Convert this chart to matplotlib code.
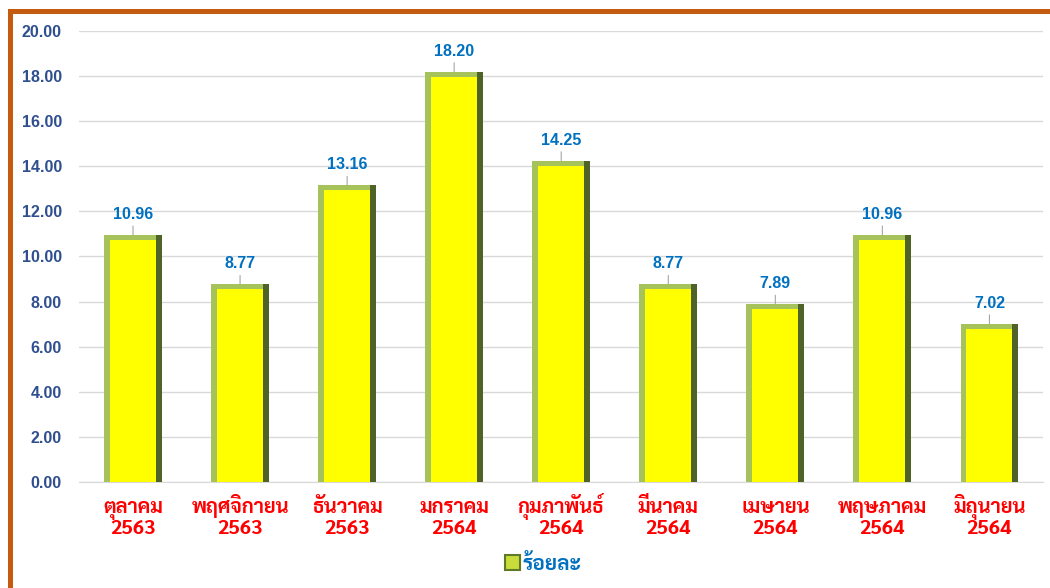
import matplotlib
matplotlib.use('Agg')
import matplotlib.pyplot as plt
import matplotlib.patches as mpatches
import matplotlib.font_manager as fm
import matplotlib.transforms as mtransforms
import matplotlib.patheffects as pe
import numpy as np

# data
months = ['ตุลาคม', 'พฤศจิกายน', 'ธันวาคม', 'มกราคม', 'กุมภาพันธ์',
          'มีนาคม', 'เมษายน', 'พฤษภาคม', 'มิถุนายน']
years = ['2563', '2563', '2563', '2564', '2564', '2564', '2564', '2564', '2564']
percent = [10.96, 8.77, 13.16, 18.20, 14.25, 8.77, 7.89, 10.96, 7.02]
yticks = np.arange(0, 20.01, 2)


def weight_num(w):
    if isinstance(w, str):
        return fm.weight_dict.get(w, 400)
    return w


# pick a Thai family that actually has a bold face installed
thai_font = None
for name in ['Sarabun', 'Noto Sans Thai Looped', 'Noto Sans Thai', 'Niramit', 'Krub']:
    if any(f.name == name and weight_num(f.weight) >= 600 for f in fm.fontManager.ttflist):
        thai_font = name
        break
THAI = [thai_font or 'Noto Sans Thai', 'DejaVu Sans']
NUM = ['Liberation Sans', 'DejaVu Sans']
fake_bold = [] if thai_font else [pe.withStroke(linewidth=0.8, foreground='#FF0000')]

fig = plt.figure(figsize=(10.5, 5.88), dpi=100)
ax = fig.add_axes([0.0757, 0.1803, 0.9176, 0.767])

x = np.arange(len(percent))
w = 0.54
side = 0.055  # bevel width (data units in x)
top = 0.22    # bevel height (data units in y)
vals = np.array(percent)

# bevelled bars: dark right edge, light left/top edge, yellow face
ax.bar(x, vals, width=w, color='#4F6228', zorder=3)
ax.bar(x - side / 2, vals, width=w - side, color='#A6C25A', zorder=3)
ax.bar(x, vals - top, width=w - 2 * side, color='#FFFF00', zorder=3)

for xi, v in zip(x, percent):
    ax.annotate(f'{v:.2f}', xy=(xi, v), xytext=(0, 13), textcoords='offset pixels',
                ha='center', va='bottom', color='#0070C0', fontsize=11.5,
                fontweight='bold', family=NUM,
                arrowprops=dict(arrowstyle='-', color='#A6A6A6', lw=0.8,
                                shrinkA=1, shrinkB=0))

ax.set_xlim(-0.5, len(percent) - 0.5)
ax.set_ylim(0, 20)
ax.set_yticks(yticks)
ax.set_yticklabels([f'{t:.2f}' for t in yticks], color='#2F4F8F',
                   fontsize=11.5, fontweight='bold', family=NUM)
ax.set_xticks(x)
ax.set_xticklabels([])
ax.tick_params(axis='both', length=0)
ax.tick_params(axis='y', pad=12.6)
ax.grid(axis='y', color='#D9D9D9', lw=1, zorder=0)
for s in ['top', 'right', 'left']:
    ax.spines[s].set_visible(False)
ax.spines['bottom'].set_color('#D9D9D9')
ax.spines['bottom'].set_zorder(2)

# two-row category labels on fixed baselines
trans = mtransforms.blended_transform_factory(ax.transData, fig.transFigure)
for xi, m, y in zip(x, months, years):
    for txt, yy in [(m, 1 - 513 / 588), (y, 1 - 534 / 588)]:
        ax.text(xi, yy, txt, transform=trans, ha='center', va='baseline',
                color='#FF0000', fontsize=14.5, fontweight='bold', family=THAI,
                path_effects=fake_bold)

handle = mpatches.Patch(facecolor='#C8DC3C', edgecolor='#5E7A26', lw=1.5)
leg = fig.legend([handle], ['ร้อยละ'], loc='center', bbox_to_anchor=(0.517, 0.040),
                 frameon=False, handlelength=0.75, handleheight=0.75, handletextpad=0.1,
                 prop=dict(family=THAI, weight='bold', size=15))
for t in leg.get_texts():
    t.set_color('#0070C0')
    if fake_bold:
        t.set_path_effects([pe.withStroke(linewidth=0.8, foreground='#0070C0')])

# orange frame (only top and left are visible in the original)
fig.add_artist(mpatches.Rectangle((9.5 / 1050, -0.1), 1.2, 1.1 - 11.5 / 588,
                                  transform=fig.transFigure, fill=False,
                                  edgecolor='#C55A11', lw=3.6, clip_on=False))

fig.savefig('out.png', dpi=100)
